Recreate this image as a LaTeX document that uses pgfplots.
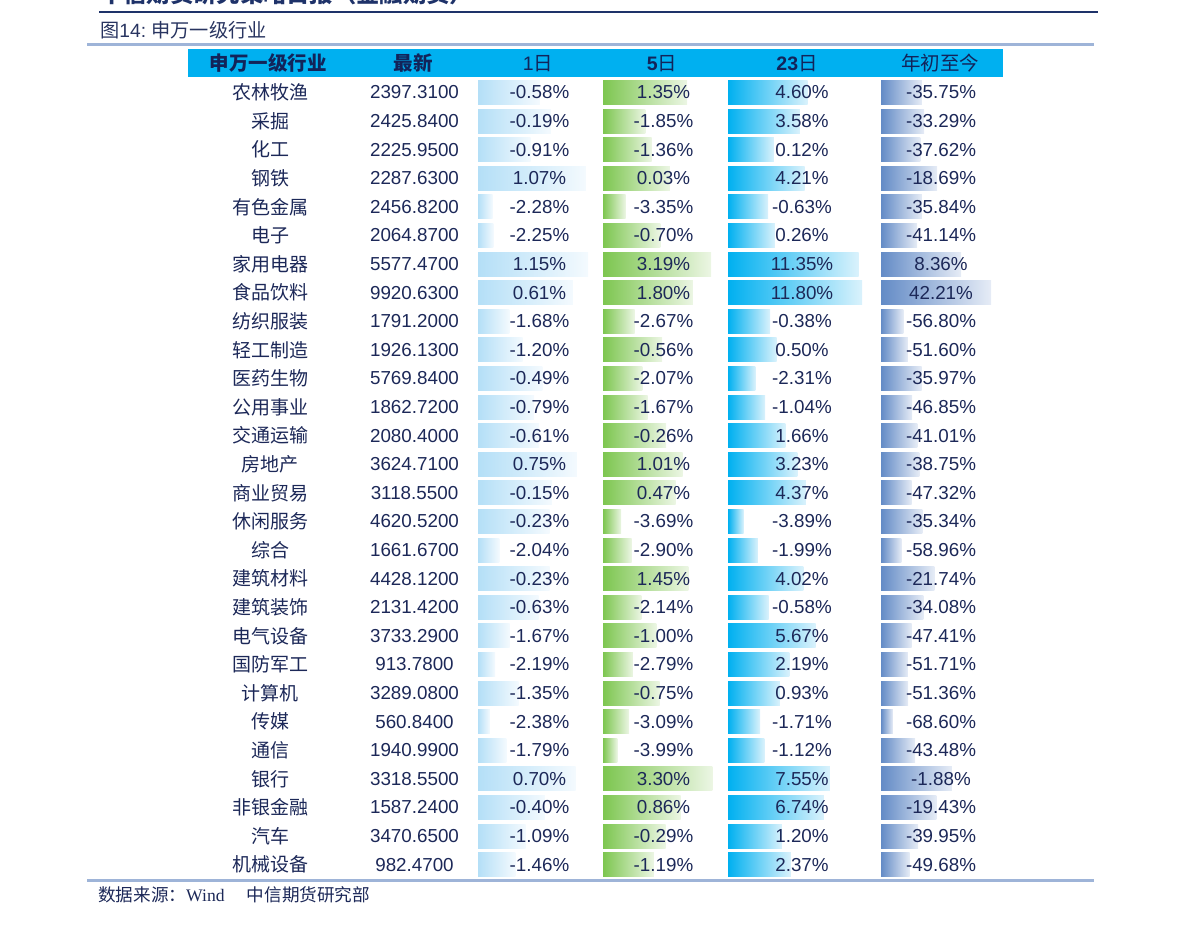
\documentclass[border=0pt]{standalone}
\usepackage{fontspec}
\setmainfont{Liberation Sans}
\newfontfamily\cjk{Noto Sans CJK SC}
\newfontfamily\serifw{Liberation Serif}
\usepackage{pgfplots}
\usepackage{pgfplotstable}
\pgfplotsset{compat=1.18}

\definecolor{txt}{RGB}{28,40,88}
\definecolor{hdr}{RGB}{18,36,90}
\definecolor{ttl}{RGB}{40,52,96}
\definecolor{navyline}{RGB}{30,50,105}
\definecolor{lightline}{RGB}{158,180,216}
\definecolor{band}{RGB}{0,176,240}
\definecolor{cAL}{RGB}{180,223,247}
\definecolor{cAR}{RGB}{244,250,254}
\definecolor{cBL}{RGB}{125,198,80}
\definecolor{cBR}{RGB}{236,246,228}
\definecolor{cCL}{RGB}{0,176,240}
\definecolor{cCR}{RGB}{218,242,252}
\definecolor{cDL}{RGB}{99,139,198}
\definecolor{cDR}{RGB}{230,236,246}

\pgfplotstableread{
r name latest d1 d5 d23 ytd
1 农林牧渔 2397.3100 -0.58 1.35 4.60 -35.75
2 采掘 2425.8400 -0.19 -1.85 3.58 -33.29
3 化工 2225.9500 -0.91 -1.36 0.12 -37.62
4 钢铁 2287.6300 1.07 0.03 4.21 -18.69
5 有色金属 2456.8200 -2.28 -3.35 -0.63 -35.84
6 电子 2064.8700 -2.25 -0.70 0.26 -41.14
7 家用电器 5577.4700 1.15 3.19 11.35 8.36
8 食品饮料 9920.6300 0.61 1.80 11.80 42.21
9 纺织服装 1791.2000 -1.68 -2.67 -0.38 -56.80
10 轻工制造 1926.1300 -1.20 -0.56 0.50 -51.60
11 医药生物 5769.8400 -0.49 -2.07 -2.31 -35.97
12 公用事业 1862.7200 -0.79 -1.67 -1.04 -46.85
13 交通运输 2080.4000 -0.61 -0.26 1.66 -41.01
14 房地产 3624.7100 0.75 1.01 3.23 -38.75
15 商业贸易 3118.5500 -0.15 0.47 4.37 -47.32
16 休闲服务 4620.5200 -0.23 -3.69 -3.89 -35.34
17 综合 1661.6700 -2.04 -2.90 -1.99 -58.96
18 建筑材料 4428.1200 -0.23 1.45 4.02 -21.74
19 建筑装饰 2131.4200 -0.63 -2.14 -0.58 -34.08
20 电气设备 3733.2900 -1.67 -1.00 5.67 -47.41
21 国防军工 913.7800 -2.19 -2.79 2.19 -51.71
22 计算机 3289.0800 -1.35 -0.75 0.93 -51.36
23 传媒 560.8400 -2.38 -3.09 -1.71 -68.60
24 通信 1940.9900 -1.79 -3.99 -1.12 -43.48
25 银行 3318.5500 0.70 3.30 7.55 -1.88
26 非银金融 1587.2400 -0.40 0.86 6.74 -19.43
27 汽车 3470.6500 -1.09 -0.29 1.20 -39.95
28 机械设备 982.4700 -1.46 -1.19 2.37 -49.68
}\datatab

\pgfplotsset{
  canvas/.style={width=1191pt,height=925pt,scale only axis,hide axis,
    xmin=0,xmax=1191,clip=false,at={(0,0)},anchor=south west},
  rows/.style={canvas,ymin=-2.2343,ymax=30.1084,y dir=reverse},
  px/.style={canvas,ymin=0,ymax=925,y dir=reverse},
  % one column of data bars; x = 0 at the column's left edge
  barcol/.style={rows,xmin=0,xmax=200,width=200pt,at={(#1pt,0)},xbar,bar width=0.84},
  cell/.style={only marks,mark=none,point meta=explicit symbolic,
    nodes near coords align={center},
    every node near coord/.append style={anchor=center,text=txt,inner sep=0pt,
      font=\fontsize{18.8}{20}\selectfont}},
  onerow/.style={draw=none,bar shift=0pt,y filter/.expression={abs(y-#1)<0.5 ? y : nan}},
}

\begin{document}
\begin{tikzpicture}
% ---------- frame, titles, header ----------
\begin{axis}[px]
  \node[anchor=base west,text=navyline,font=\cjk\bfseries\fontsize{23.3}{24}\selectfont,inner sep=0pt]
    at (axis cs:100,3) {中信期货研究策略日报（金融期货）};
  \draw[navyline,line width=2.2pt] (axis cs:99,12) -- (axis cs:1098,12);
  \node[anchor=west,text=ttl,inner sep=0pt,font=\fontsize{19.2}{20}\selectfont]
    at (axis cs:100,30) {{\cjk 图}14:\ {\cjk 申万一级行业}};
  \draw[lightline,line width=3pt] (axis cs:87,45) -- (axis cs:1094,45);
  \fill[band] (axis cs:188,49.5) rectangle (axis cs:1003,77.5);
  \begin{scope}[every node/.style={anchor=center,text=hdr,inner sep=0pt,font=\fontsize{19.5}{20}\selectfont}]
    \node at (axis cs:268,63.5) {\cjk\bfseries 申万一级行业};
    \node at (axis cs:413,63.5) {\cjk\bfseries 最新};
    \node at (axis cs:538,63.5) {1{\cjk 日}};
    \node at (axis cs:662,63.5) {\textbf{5}{\cjk 日}};
    \node at (axis cs:797,63.5) {\textbf{23}{\cjk 日}};
    \node at (axis cs:940,63.5) {\cjk 年初至今};
  \end{scope}
  \draw[lightline,line width=3pt] (axis cs:87,880) -- (axis cs:1094,880);
  \node[anchor=west,text=txt,inner sep=0pt,font=\fontsize{17.6}{18}\selectfont]
    at (axis cs:98,895) {{\cjk 数据来源：}{\serifw Wind}};
  \node[anchor=west,text=txt,inner sep=0pt,font=\cjk\fontsize{17.6}{18}\selectfont]
    at (axis cs:246.7,895) {中信期货研究部};
\end{axis}

% ---------- data bars: 1日 ----------
\begin{axis}[barcol=478]
  \pgfplotsinvokeforeach{1,...,28}{
    \addplot[onerow=#1,left color=cAL,right color=cAR]
      table[x expr={(\thisrow{d1}+2.807)*27.8},y=r]{\datatab};
  }
\end{axis}
% ---------- 5日 ----------
\begin{axis}[barcol=603]
  \pgfplotsinvokeforeach{1,...,28}{
    \addplot[onerow=#1,left color=cBL,right color=cBR]
      table[x expr={(\thisrow{d5}+5.087)*13.05},y=r]{\datatab};
  }
\end{axis}
% ---------- 23日 ----------
\begin{axis}[barcol=728]
  \pgfplotsinvokeforeach{1,...,28}{
    \addplot[onerow=#1,left color=cCL,right color=cCR]
      table[x expr={(\thisrow{d23}+5.95)*7.55},y=r]{\datatab};
  }
\end{axis}
% ---------- 年初至今 ----------
\begin{axis}[barcol=881]
  \pgfplotsinvokeforeach{1,...,28}{
    \addplot[onerow=#1,left color=cDL,right color=cDR]
      table[x expr={(\thisrow{ytd}+81.94)*0.886},y=r]{\datatab};
  }
\end{axis}

% ---------- cell texts ----------
\begin{axis}[rows]
  \addplot[cell,nodes near coords={\cjk\fontsize{19}{20}\selectfont\pgfplotspointmeta}]
    table[x expr=270,y=r,meta=name]{\datatab};
  \addplot[cell,nodes near coords={\pgfplotspointmeta}]
    table[x expr=414.5,y=r,meta=latest]{\datatab};
  \addplot[cell,nodes near coords={\pgfplotspointmeta\%}]
    table[x expr=539.5,y=r,meta=d1]{\datatab};
  \addplot[cell,nodes near coords={\pgfplotspointmeta\%}]
    table[x expr=663.5,y=r,meta=d5]{\datatab};
  \addplot[cell,nodes near coords={\pgfplotspointmeta\%}]
    table[x expr=802,y=r,meta=d23]{\datatab};
  \addplot[cell,nodes near coords={\pgfplotspointmeta\%}]
    table[x expr=941,y=r,meta=ytd]{\datatab};
\end{axis}

\pgfresetboundingbox
\path[use as bounding box] (0,0) rectangle (1191pt,925pt);
\end{tikzpicture}
\end{document}
